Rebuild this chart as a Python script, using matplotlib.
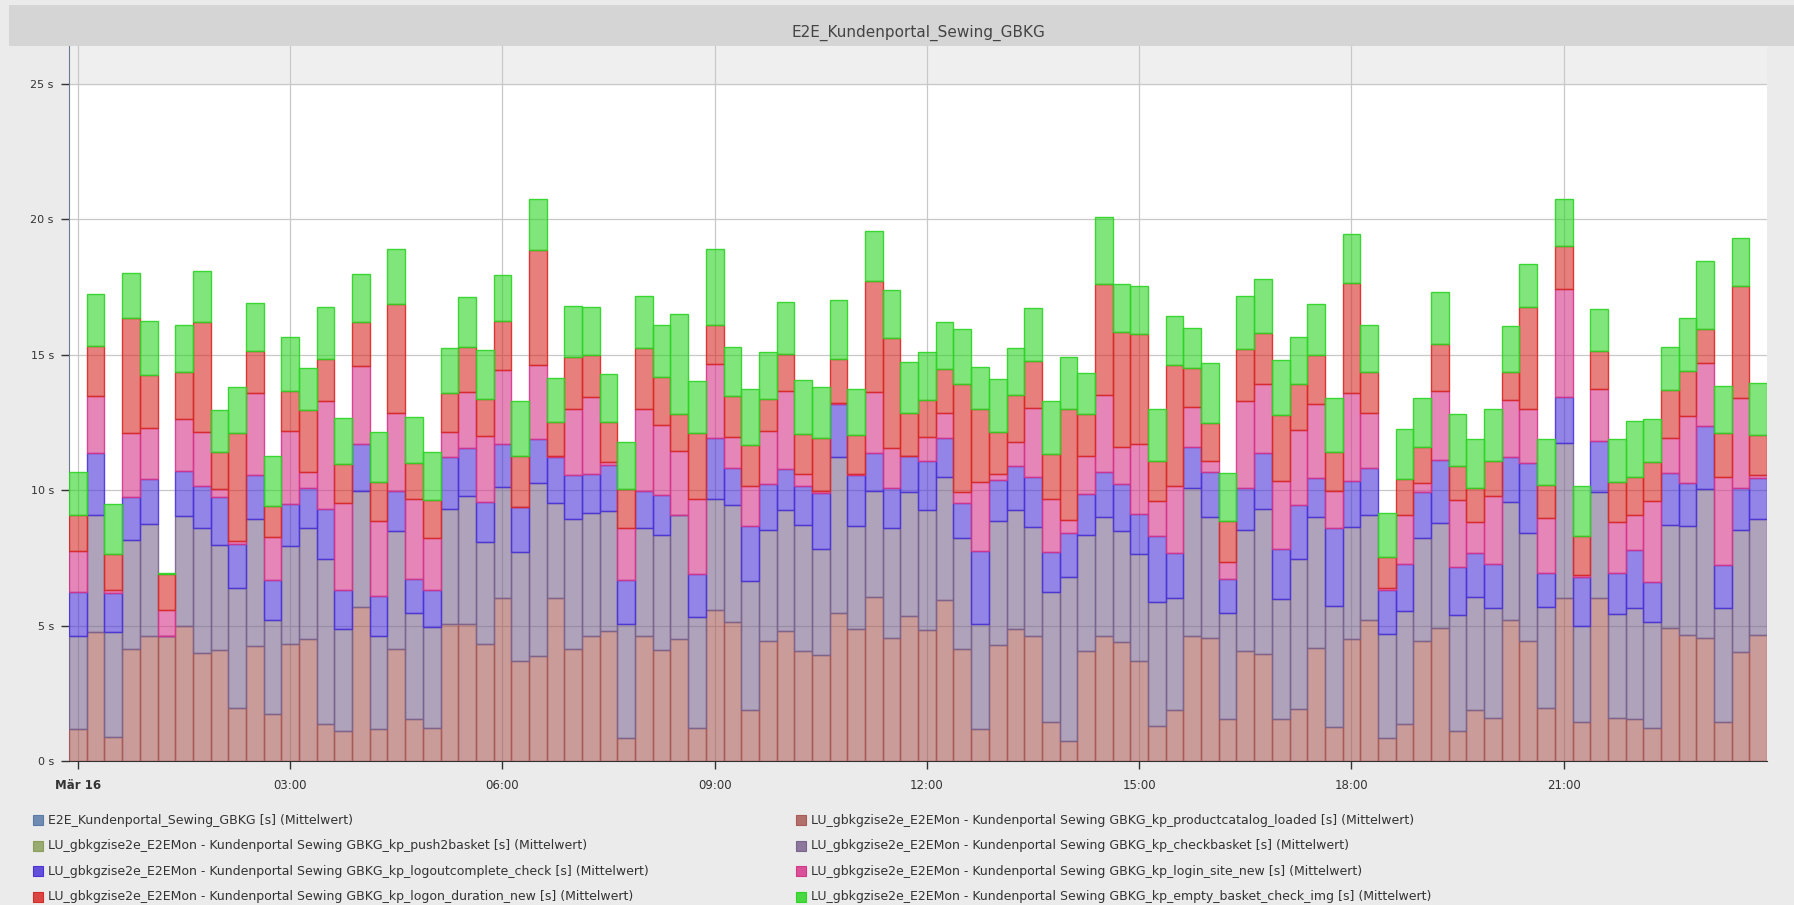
import numpy as np
import matplotlib.pyplot as plt
from matplotlib.patches import Rectangle
from matplotlib.colors import to_rgba

# 15-minute buckets over one day (96 bars)
time_labels = ['Mär 16', '03:00', '06:00', '09:00', '12:00', '15:00', '18:00', '21:00']

productcatalog = [
    1.20, 4.77, 0.90, 4.15, 4.61, 4.61, 5.00, 4.01, 4.11, 1.97, 4.24, 1.75, 4.34, 4.52, 1.37, 1.13,
    5.69, 1.17, 4.15, 1.54, 1.23, 5.06, 5.06, 4.34, 6.01, 3.70, 3.87, 6.01, 4.15, 4.61, 4.82, 0.85,
    4.61, 4.11, 4.51, 1.23, 5.59, 5.14, 1.89, 4.42, 4.79, 4.07, 3.93, 5.46, 4.89, 6.06, 4.56, 5.34,
    4.85, 5.96, 4.15, 1.17, 4.28, 4.89, 4.63, 1.44, 0.76, 4.06, 4.61, 4.41, 3.70, 1.30, 1.89, 4.61,
    4.54, 1.54, 4.07, 3.97, 1.54, 1.93, 4.17, 1.27, 4.52, 5.20, 0.85, 1.37, 4.42, 4.93, 1.13, 1.89,
    1.58, 5.20, 4.42, 1.97, 6.01, 1.44, 6.01, 1.58, 1.54, 1.23, 4.93, 4.66, 4.56, 1.44, 4.04, 4.66]

checkbasket = [
    3.41, 4.30, 3.87, 4.01, 4.13, 0.00, 4.04, 4.61, 3.87, 4.44, 4.70, 3.46, 3.62, 4.07, 6.10, 3.76,
    4.30, 3.44, 4.35, 3.92, 3.73, 4.24, 4.73, 3.75, 4.11, 4.03, 6.41, 3.52, 4.79, 4.54, 4.41, 4.21,
    3.99, 4.25, 4.56, 4.08, 4.08, 4.30, 4.76, 4.11, 4.49, 4.66, 3.92, 5.76, 3.80, 3.93, 4.03, 4.61,
    4.44, 4.54, 4.07, 3.89, 4.59, 4.39, 4.03, 4.79, 6.03, 4.28, 4.39, 4.10, 3.96, 4.58, 4.13, 5.46,
    4.46, 3.92, 4.48, 5.35, 4.44, 5.54, 4.83, 4.46, 4.14, 3.89, 3.83, 4.18, 3.80, 3.87, 4.25, 4.17,
    4.06, 4.38, 3.99, 3.72, 5.73, 3.55, 3.94, 3.87, 4.13, 3.92, 3.79, 4.03, 5.49, 4.23, 4.51, 4.28]

logoutcomplete = [
    1.62, 2.30, 1.45, 1.58, 1.66, 0.00, 1.68, 1.54, 1.76, 1.62, 1.62, 1.46, 1.54, 1.48, 1.83, 1.44,
    1.72, 1.48, 1.48, 1.27, 1.37, 1.93, 1.77, 1.48, 1.58, 1.66, 1.61, 1.69, 1.63, 1.44, 1.72, 1.62,
    1.37, 1.48, 0.00, 1.59, 2.25, 1.37, 2.04, 1.69, 1.49, 1.44, 2.04, 1.97, 1.87, 1.37, 1.51, 1.30,
    1.79, 1.44, 1.31, 2.69, 1.52, 1.62, 1.83, 1.48, 1.62, 1.51, 1.66, 1.73, 1.48, 2.44, 1.66, 1.54,
    1.66, 1.27, 1.55, 2.07, 1.87, 2.00, 1.45, 2.89, 1.69, 1.72, 1.65, 1.73, 1.73, 2.32, 1.80, 1.62,
    1.65, 1.65, 2.58, 1.27, 1.69, 1.80, 1.86, 1.51, 2.14, 1.46, 1.92, 1.58, 2.34, 1.58, 1.55, 1.51]

login_site = [
    1.51, 2.11, 0.10, 2.37, 1.90, 0.96, 1.93, 2.00, 0.32, 0.10, 3.04, 1.59, 2.68, 0.59, 4.00, 3.21,
    2.89, 2.79, 2.86, 2.93, 1.90, 0.94, 2.06, 2.42, 2.76, 0.00, 2.72, 0.03, 2.44, 2.86, 0.10, 1.94,
    3.03, 2.56, 2.37, 2.77, 2.76, 1.15, 1.45, 1.97, 2.89, 0.42, 0.10, 0.04, 0.03, 2.27, 1.48, 0.03,
    0.89, 0.92, 0.42, 2.56, 0.20, 0.89, 2.56, 1.97, 0.49, 1.41, 2.86, 1.37, 2.58, 1.27, 2.49, 1.45,
    0.42, 0.63, 3.20, 2.54, 2.49, 2.75, 2.72, 1.37, 3.23, 2.04, 0.08, 1.80, 0.31, 2.54, 2.45, 1.15,
    2.49, 2.11, 2.00, 2.01, 3.99, 0.07, 1.93, 1.87, 1.27, 3.00, 1.30, 2.46, 2.31, 3.25, 3.31, 0.13]

logon_duration = [
    1.34, 1.86, 1.31, 4.25, 1.96, 1.34, 1.72, 4.07, 1.35, 3.99, 1.56, 1.17, 1.48, 2.32, 1.54, 1.44,
    1.61, 1.42, 4.04, 1.34, 1.41, 1.42, 1.66, 1.39, 1.80, 1.86, 4.25, 1.27, 1.92, 1.56, 1.48, 1.41,
    2.25, 1.80, 1.37, 2.44, 1.44, 1.52, 1.54, 1.18, 1.37, 1.48, 1.94, 1.63, 1.45, 4.11, 4.03, 1.58,
    1.35, 1.62, 3.99, 2.68, 1.58, 1.73, 1.73, 1.66, 4.11, 1.56, 4.11, 4.23, 4.04, 1.49, 4.44, 1.45,
    1.41, 1.51, 1.90, 1.89, 2.44, 1.72, 1.83, 1.42, 4.08, 1.51, 1.13, 1.34, 1.35, 1.76, 1.28, 1.24,
    1.31, 1.01, 3.79, 1.23, 1.59, 1.45, 1.41, 1.48, 1.42, 1.44, 1.76, 1.69, 1.24, 1.62, 4.15, 1.45]

empty_basket = [
    1.59, 1.89, 1.86, 1.68, 1.99, 0.03, 1.75, 1.86, 1.56, 1.68, 1.75, 1.83, 2.00, 1.54, 1.92, 1.69,
    1.77, 1.87, 2.03, 1.72, 1.76, 1.65, 1.87, 1.79, 1.69, 2.04, 1.90, 1.63, 1.86, 1.75, 1.77, 1.76,
    1.92, 1.90, 3.70, 1.92, 2.79, 1.80, 2.07, 1.73, 1.93, 2.00, 1.87, 2.18, 1.70, 1.82, 1.80, 1.86,
    1.79, 1.73, 2.03, 1.58, 1.94, 1.72, 1.96, 1.96, 1.92, 1.52, 2.45, 1.76, 1.80, 1.92, 1.82, 1.49,
    2.21, 1.77, 1.99, 2.00, 2.04, 1.72, 1.87, 2.01, 1.80, 1.73, 1.61, 1.83, 1.80, 1.90, 1.89, 1.82,
    1.90, 1.73, 1.59, 1.69, 1.75, 1.86, 1.54, 1.58, 2.07, 1.58, 1.59, 1.96, 2.51, 1.72, 1.75, 1.94]

prefix = 'LU_gbkgzise2e_E2EMon - Kundenportal Sewing GBKG_kp_'
legend_names = [
    'E2E_Kundenportal_Sewing_GBKG [s] (Mittelwert)',
    prefix + 'productcatalog_loaded [s] (Mittelwert)',
    prefix + 'push2basket [s] (Mittelwert)',
    prefix + 'checkbasket [s] (Mittelwert)',
    prefix + 'logoutcomplete_check [s] (Mittelwert)',
    prefix + 'login_site_new [s] (Mittelwert)',
    prefix + 'logon_duration_new [s] (Mittelwert)',
    prefix + 'empty_basket_check_img [s] (Mittelwert)',
]
legend_colors = ['#5a7aa8', '#a85a56', '#8aa05a', '#7a648e', '#4a34d8', '#d6368a', '#d82a26', '#2cd424']

# stacked bottom -> top
stack = [
    (productcatalog, '#a85a56'),
    (checkbasket, '#7a648e'),
    (logoutcomplete, '#4a34d8'),
    (login_site, '#d6368a'),
    (logon_duration, '#d82a26'),
    (empty_basket, '#2cd424'),
]

fig = plt.figure(figsize=(17.94, 9.05), dpi=100, facecolor='#ebebeb')

# title band
fig.patches.append(Rectangle((0.005, 0.949), 0.995, 0.046, transform=fig.transFigure,
                             facecolor='#d5d5d5', edgecolor='none', zorder=0))
fig.text(0.512, 0.9635, 'E2E_Kundenportal_Sewing_GBKG', ha='center', va='center',
         fontsize=11, color='#444444')

ax = fig.add_axes([0.0385, 0.159, 0.9465, 0.790])
ax.set_facecolor('white')
x = np.arange(len(productcatalog))
bottom = np.zeros(len(x))
for vals, col in stack:
    vals = np.array(vals)
    ax.bar(x, vals, bottom=bottom, width=1.0, facecolor=to_rgba(col, 0.6),
           edgecolor=to_rgba(col, 0.9), linewidth=1.0, zorder=3)
    bottom += vals

ax.axhspan(25, 26.4, color='#efefef', zorder=0)
ax.set_ylim(0, 26.4)
ax.set_xlim(-0.5, len(x) - 0.5)

ax.set_yticks([0, 5, 10, 15, 20, 25])
ax.set_yticklabels(['0 s', '5 s', '10 s', '15 s', '20 s', '25 s'])
ax.set_xticks(np.arange(0, 96, 12))
ax.set_xticklabels(time_labels)
ax.get_xticklabels()[0].set_fontweight('bold')
ax.tick_params(axis='y', labelsize=8, colors='#333333', length=6, pad=5, width=1)
ax.tick_params(axis='x', labelsize=8.5, colors='#333333', length=6, pad=7, width=1)
ax.grid(True, color='#c8c8c8', linewidth=0.9, zorder=1)
ax.set_axisbelow(True)

for s in ['top', 'right']:
    ax.spines[s].set_visible(False)
ax.spines['left'].set_color('#6a7a8e')
ax.spines['bottom'].set_color('#333333')

# legend, two columns
rows_y = [1 - 820 / 905, 1 - 845.5 / 905, 1 - 871 / 905, 1 - 896.5 / 905]
cols_x = [33 / 1794, 796 / 1794]
sw, sh = 10 / 1794, 10 / 905
for k, (name, col) in enumerate(zip(legend_names, legend_colors)):
    cx = cols_x[k % 2]
    cy = rows_y[k // 2]
    fig.patches.append(Rectangle((cx, cy - sh / 2), sw, sh, transform=fig.transFigure,
                                 facecolor=to_rgba(col, 0.85), edgecolor=col, linewidth=0.8))
    fig.text(cx + 15 / 1794, cy, name, ha='left', va='center', fontsize=9, color='#333333')

fig.savefig('out.png', dpi=100, facecolor=fig.get_facecolor())
